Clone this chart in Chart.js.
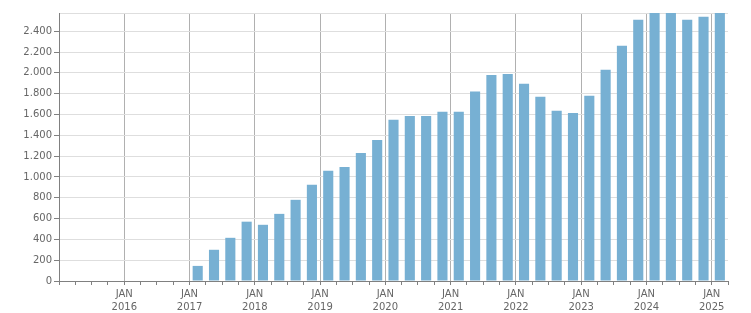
<!DOCTYPE html>
<html>
<head>
<meta charset="utf-8">
<script src="https://cdn.jsdelivr.net/npm/chart.js@4.4.1/dist/chart.umd.min.js"></script>
<style>
  html, body { margin: 0; padding: 0; background: #fff; }
  #wrap { width: 751px; height: 313px; }
</style>
</head>
<body>
<div id="wrap"><canvas id="chart" width="751" height="313"></canvas></div>
<script>
// datos trimestrales (el eje empieza en ENE 2015)
const quarters = [
  '2017-Q1', '2017-Q2', '2017-Q3', '2017-Q4',
  '2018-Q1', '2018-Q2', '2018-Q3', '2018-Q4',
  '2019-Q1', '2019-Q2', '2019-Q3', '2019-Q4',
  '2020-Q1', '2020-Q2', '2020-Q3', '2020-Q4',
  '2021-Q1', '2021-Q2', '2021-Q3', '2021-Q4',
  '2022-Q1', '2022-Q2', '2022-Q3', '2022-Q4',
  '2023-Q1', '2023-Q2', '2023-Q3', '2023-Q4',
  '2024-Q1', '2024-Q2', '2024-Q3', '2024-Q4',
  '2025-Q1'
];
const values = [
  145, 300, 415, 570,
  540, 645, 780, 925,
  1060, 1095, 1230, 1355,
  1550, 1585, 1585, 1625,
  1625, 1820, 1980, 1990,
  1895, 1770, 1635, 1615,
  1780, 2030, 2260, 2510,
  2575, 2575, 2510, 2540,
  2575
];
const years = ['2016', '2017', '2018', '2019', '2020', '2021', '2022', '2023', '2024', '2025'];
const monthLabel = 'JAN';
const yTicks = [0, 200, 400, 600, 800, 1000, 1200, 1400, 1600, 1800, 2000, 2200, 2400];
const axisStartYear = 2015;
const axisQuarters = 41; // ENE 2015 -> ABR 2025

const toX = (q) => {
  const [y, qq] = q.split('-Q');
  return (Number(y) - axisStartYear) * 4 + (Number(qq) - 1) + 0.5;
};

const fmt = (n) => String(n).replace(/\B(?=(\d{3})+(?!\d))/g, '.');

const yMax = Math.max(...values);
const textColor = '#666';
const axisColor = '#808080';

new Chart(document.getElementById('chart').getContext('2d'), {
  type: 'bar',
  data: {
    datasets: [{
      data: quarters.map((q, i) => ({ x: toX(q), y: values[i] })),
      backgroundColor: '#77b0d3',
      borderWidth: 0,
      categoryPercentage: 1,
      barPercentage: 0.62,
    }]
  },
  options: {
    responsive: false,
    animation: false,
    layout: { padding: { top: 13, right: 23, left: 0, bottom: 0 } },
    plugins: { legend: { display: false }, tooltip: { enabled: false } },
    scales: {
      x: {
        type: 'linear',
        min: 0,
        max: axisQuarters,
        offset: false,
        afterFit: (s) => { s.height = 32; },
        border: { color: axisColor },
        grid: {
          offset: false,
          color: (c) => (c.tick && c.tick.value % 4 === 0 ? '#b0b0b0' : 'transparent'),
          tickColor: axisColor,
          tickLength: 4,
        },
        ticks: {
          stepSize: 1,
          autoSkip: false,
          maxRotation: 0,
          padding: 3,
          color: textColor,
          font: { family: 'DejaVu Sans', size: 10, lineHeight: 1.27 },
          callback: (v) => {
            if (v % 4 !== 0 || v === 0) return '';
            return [monthLabel, years[v / 4 - 1]];
          }
        }
      },
      y: {
        min: 0,
        max: yMax,
        afterFit: (s) => { s.width = 59; },
        // ticks fijos: 0..2400 cada 200 + línea superior en el máximo
        afterBuildTicks: (s) => { s.ticks = yTicks.concat(yMax).map(v => ({ value: v })); },
        border: { color: axisColor },
        grid: {
          color: '#dedede',
          tickColor: (c) => (c.tick && yTicks.includes(c.tick.value) ? axisColor : 'transparent'),
          tickLength: 5,
        },
        ticks: {
          autoSkip: false,
          padding: 2,
          color: textColor,
          font: { family: 'DejaVu Sans', size: 10 },
          callback: (v) => (yTicks.includes(v) ? fmt(v) : '')
        }
      }
    }
  }
});
</script>
</body>
</html>
